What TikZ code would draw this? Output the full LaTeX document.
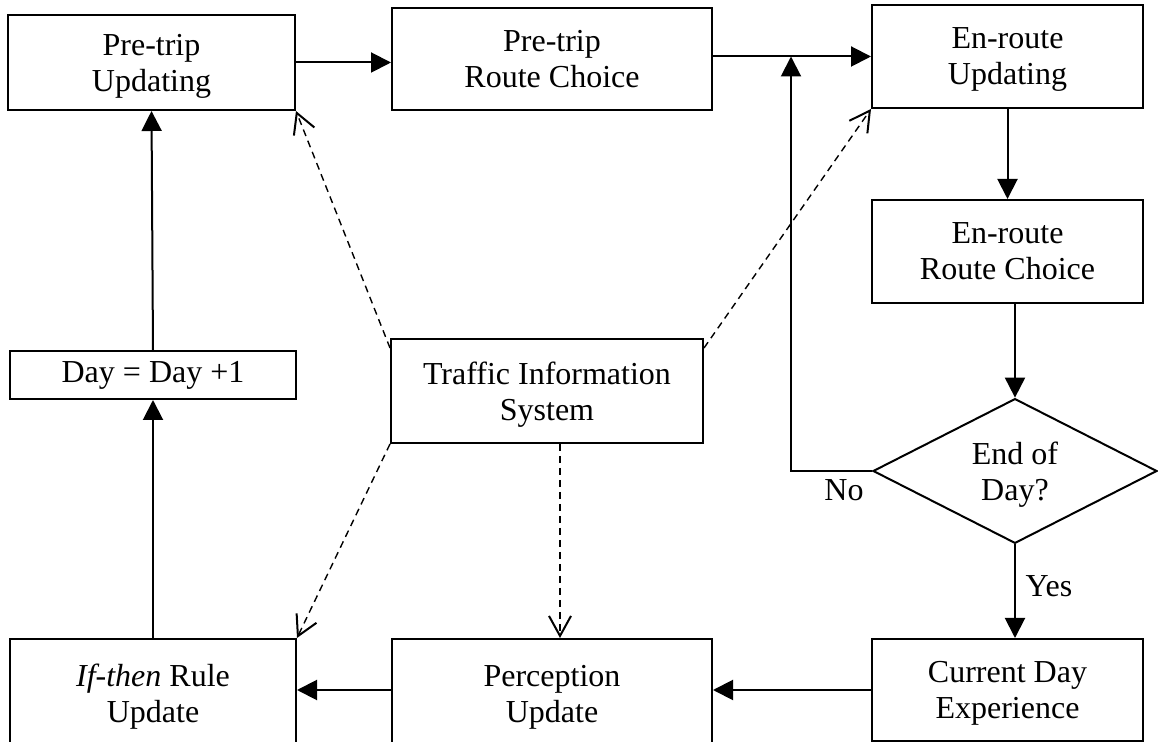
\documentclass[tikz,border=0pt]{standalone}
\usepackage{fontspec}
\setmainfont{Liberation Serif}
\usetikzlibrary{arrows.meta,shapes.geometric}
\newcommand\boxfont{\fontsize{16}{18}\selectfont}
\begin{document}
\begin{tikzpicture}[x=0.5pt,y=-0.5pt,
 box/.style={draw,line width=1pt,align=center,inner sep=0pt,font=\boxfont},
 twoline/.style={box,text depth=0pt},
 flow/.style={line width=1pt,-{Triangle[length=10pt,width=10pt]}},
 info/.style={line width=0.7pt,dash pattern=on 3.5pt off 2.5pt,-{Straight Barb[length=10pt,width=11pt,line width=1pt]}},
 lbl/.style={font=\boxfont,inner sep=0pt}]
\useasboundingbox (0,0) rectangle (1158,742);
\clip (0,0) rectangle (1158,742);
% nodes
\node[twoline,minimum width=143.5pt,minimum height=47.5pt] (pu) at (151.5,62.5) {Pre-trip\\Updating};
\node[twoline,minimum width=160pt,minimum height=51pt] (prc) at (552,59) {Pre-trip\\Route Choice};
\node[twoline,minimum width=135.5pt,minimum height=51.5pt] (eu) at (1007.5,56.5) {En-route\\Updating};
\node[twoline,minimum width=135.5pt,minimum height=51.5pt] (erc) at (1007.5,251.5) {En-route\\Route Choice};
\node[twoline,shape=diamond,minimum width=142pt,minimum height=72pt] (dia) at (1015,471) {End of\\Day?};
\node[twoline,minimum width=135.5pt,minimum height=51pt] (cde) at (1007.5,690) {Current Day\\Experience};
\node[twoline,minimum width=160pt,minimum height=54.5pt] (pe) at (552,693.5) {Perception\\Update};
\node[twoline,minimum width=143pt,minimum height=54.5pt] (itr) at (153,693.5) {\textit{If-then} Rule\\Update};
\node[box,minimum width=143pt,minimum height=24pt] (day) at (153,375) {Day = Day +1};
\node[twoline,minimum width=156pt,minimum height=52pt] (tis) at (547,391) {Traffic Information\\System};
\coordinate (nl) at (791,56.5);
% labels
\node[lbl] (no) at (844,490) {No};
\node[lbl] (yes) at (1049,586) {Yes};
% solid flow
\draw[flow] (pu.east) -- (prc.west |- pu.east);
\draw[flow] (prc.east |- eu.west) -- (eu.west);
\draw[flow] (eu.south) -- (erc.north);
\draw[flow] (dia.north |- erc.south) -- (dia.north);
\draw[flow] (dia.west) -| (nl);
\draw[flow] (dia.south) -- (dia.south |- cde.north);
\draw[flow] (cde.west) -- (pe.east |- cde.west);
\draw[flow] (pe.west |- cde.west) -- (itr.east |- cde.west);
\draw[flow] (itr.north) -- (day.south);
\draw[flow] (day.north) -- (pu.south);
% information
\draw[info] ([yshift=-5pt]tis.north west) -- (pu.south east);
\draw[info] ([yshift=-5pt]tis.north east) -- (eu.south west);
\draw[info] (tis.south west) -- (itr.north east);
\draw[info] (tis.south -| 560,0) -- (pe.north -| 560,0);
\end{tikzpicture}
\end{document}
